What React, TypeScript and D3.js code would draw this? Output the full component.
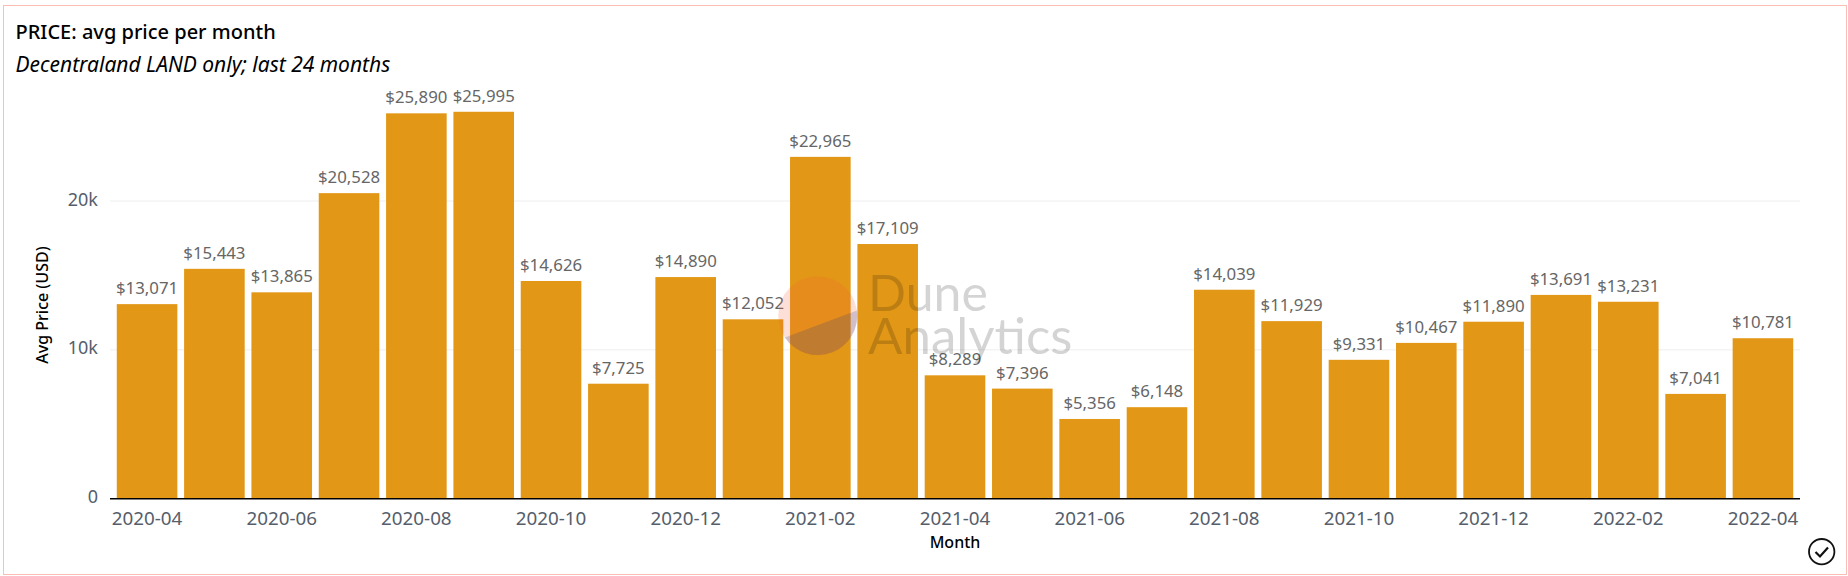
import React from "react";
import * as d3 from "d3";

const months = ["2020-04","2020-05","2020-06","2020-07","2020-08","2020-09","2020-10","2020-11","2020-12","2021-01","2021-02","2021-03","2021-04","2021-05","2021-06","2021-07","2021-08","2021-09","2021-10","2021-11","2021-12","2022-01","2022-02","2022-03","2022-04"];
const prices = [13071,15443,13865,20528,25890,25995,14626,7725,14890,12052,22965,17109,8289,7396,5356,6148,14039,11929,9331,10467,11890,13691,13231,7041,10781];
const yTicks = [0,10000,20000];
const tickEvery = 2;

const W = 1848, H = 576;
const FONT = "'Noto Sans', sans-serif";

export default function App() {
  const x = d3.scaleBand<string>().domain(months).range([113.4, 1796.6]).paddingInner(0.1).paddingOuter(0.05);
  const y = d3.scaleLinear().domain([0, 20000]).range([498.7, 201]);
  const fmtVal = d3.format("$,");
  const fmtTick = (v: number) => (v === 0 ? "0" : `${v / 1000}k`);
  return (
    <svg width={W} height={H} viewBox={`0 0 ${W} ${H}`} style={{ position: "absolute", left: 0, top: 0, fontFamily: FONT }}>
      <rect x={0} y={0} width={W} height={H} fill="#fff" />
      <rect x={3.5} y={5.5} width={1843} height={569} fill="#fff" stroke="#fdbcb4" strokeWidth={1} />
      <text x={15.5} y={39} fontSize={20} fontWeight={500} fill="#000">PRICE: avg price per month</text>
      <text x={15.5} y={71.5} fontSize={21} fontStyle="italic" fill="#000">Decentraland LAND only; last 24 months</text>

      {yTicks.filter(t => t > 0).map(t => (
        <line key={t} x1={110} x2={1800} y1={y(t)} y2={y(t)} stroke="#eeeeee" strokeWidth={1} />
      ))}
      {yTicks.map(t => (
        <text key={t} x={98} y={y(t) + 4.5} textAnchor="end" fontSize={18} fill="#555e6b">{fmtTick(t)}</text>
      ))}
      {months.map((m, i) => (
        <rect key={m} x={x(m)} y={y(prices[i])} width={x.bandwidth()} height={y(0) - y(prices[i])} fill="#e29816" />
      ))}
      <line x1={110} x2={1800} y1={y(0)} y2={y(0)} stroke="#000" strokeWidth={1.5} />
      {months.map((m, i) => (
        <text key={m} x={x(m)! + x.bandwidth() / 2} y={y(prices[i]) - 10} textAnchor="middle" fontSize={16.8} fill="#666">{fmtVal(prices[i])}</text>
      ))}
      {months.map((m, i) => i % tickEvery === 0 ? (
        <text key={m} x={x(m)! + x.bandwidth() / 2} y={525} textAnchor="middle" fontSize={18.8} fill="#555e6b">{m}</text>
      ) : null)}
      <text x={955} y={548} textAnchor="middle" fontSize={16} fontWeight={500} fill="#000">Month</text>
      <text transform="translate(47.5,305) rotate(-90)" textAnchor="middle" fontSize={16} fontWeight={500} fill="#000">Avg Price (USD)</text>

      <g>
        <circle cx={817.7} cy={315.7} r={39.5} fill="#f4603e" fillOpacity={0.2} />
        <path d="M 785 337.5 A 39.5 39.5 0 0 0 857 310.5 Z" fill="#2a3a80" fillOpacity={0.2} />
        <text x={868} y={311} fontSize={50} fill="#000" fillOpacity={0.17} fontFamily="Lato, sans-serif">Dune</text>
        <text x={868} y={354} fontSize={51} fill="#000" fillOpacity={0.17} fontFamily="Lato, sans-serif">Analytics</text>
      </g>

      <g fill="none" stroke="#111">
        <circle cx={1821.7} cy={551.7} r={12.7} strokeWidth={1.8} />
        <path d="M 1815.5 552 L 1820 556.5 L 1828 547.5" strokeWidth={2.2} />
      </g>
    </svg>
  );
}
